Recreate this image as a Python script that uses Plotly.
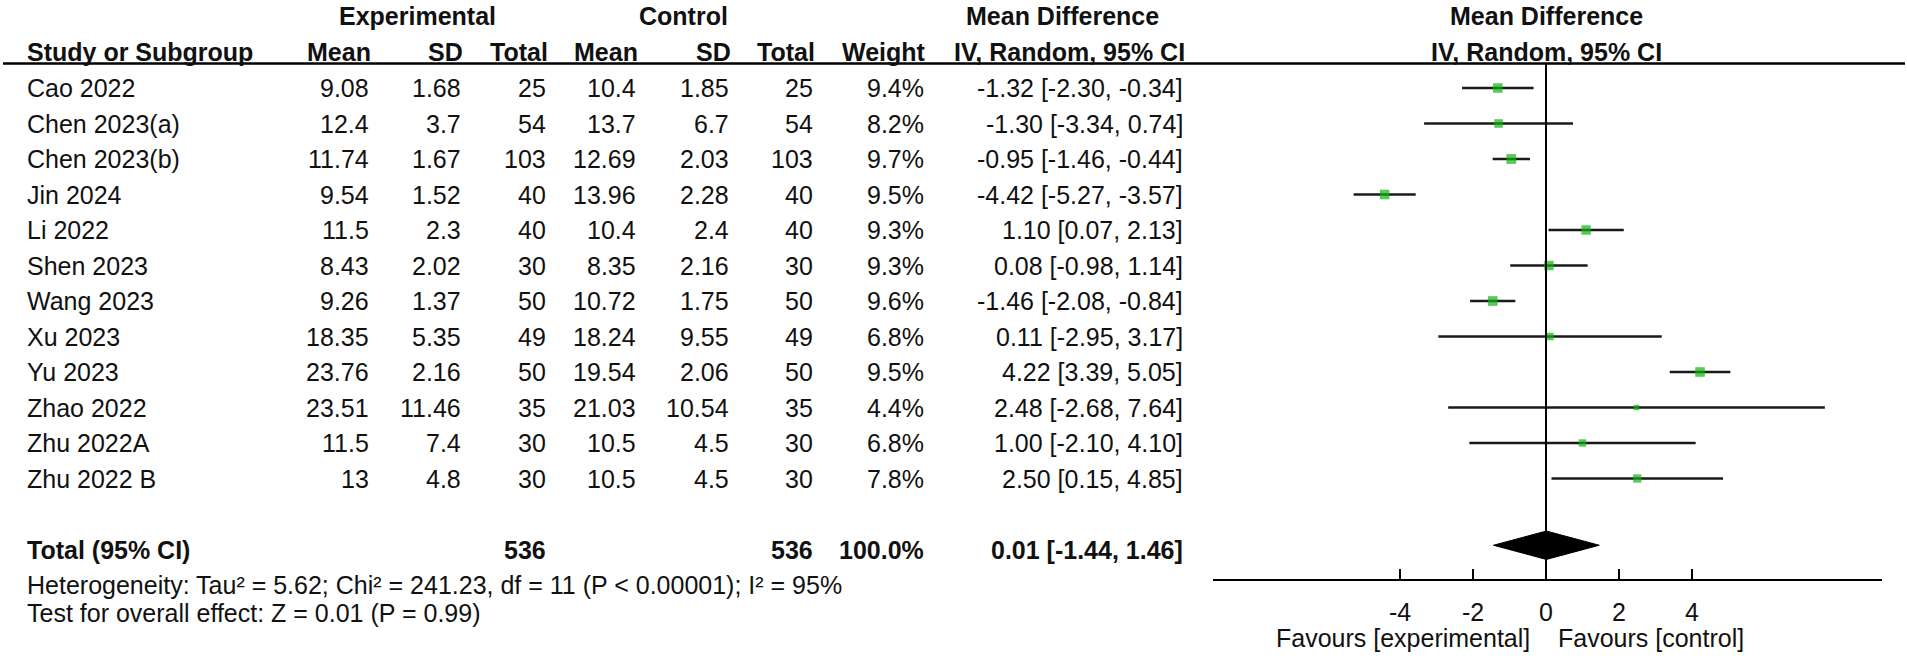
import plotly.graph_objects as go

# === Dados ===
studies = ["Cao 2022", "Chen 2023(a)", "Chen 2023(b)", "Jin 2024", "Li 2022", "Shen 2023",
           "Wang 2023", "Xu 2023", "Yu 2023", "Zhao 2022", "Zhu 2022A", "Zhu 2022 B"]
exp_mean = [9.08, 12.4, 11.74, 9.54, 11.5, 8.43, 9.26, 18.35, 23.76, 23.51, 11.5, 13]
exp_sd = [1.68, 3.7, 1.67, 1.52, 2.3, 2.02, 1.37, 5.35, 2.16, 11.46, 7.4, 4.8]
exp_n = [25, 54, 103, 40, 40, 30, 50, 49, 50, 35, 30, 30]
ctl_mean = [10.4, 13.7, 12.69, 13.96, 10.4, 8.35, 10.72, 18.24, 19.54, 21.03, 10.5, 10.5]
ctl_sd = [1.85, 6.7, 2.03, 2.28, 2.4, 2.16, 1.75, 9.55, 2.06, 10.54, 4.5, 4.5]
ctl_n = [25, 54, 103, 40, 40, 30, 50, 49, 50, 35, 30, 30]
weight = [9.4, 8.2, 9.7, 9.5, 9.3, 9.3, 9.6, 6.8, 9.5, 4.4, 6.8, 7.8]
md = [-1.32, -1.30, -0.95, -4.42, 1.10, 0.08, -1.46, 0.11, 4.22, 2.48, 1.00, 2.50]
ci_lo = [-2.30, -3.34, -1.46, -5.27, 0.07, -0.98, -2.08, -2.95, 3.39, -2.68, -2.10, 0.15]
ci_hi = [-0.34, 0.74, -0.44, -3.57, 2.13, 1.14, -0.84, 3.17, 5.05, 7.64, 4.10, 4.85]

total_exp = 536
total_ctl = 536
total_weight = 100.0
total_md = 0.01
total_lo = -1.44
total_hi = 1.46
heterogeneity = "Heterogeneity: Tau² = 5.62; Chi² = 241.23, df = 11 (P < 0.00001); I² = 95%"
overall = "Test for overall effect: Z = 0.01 (P = 0.99)"

tick_vals = [-4, -2, 0, 2, 4]

# === Geometria (pixels da imagem de 1907 x 658) ===
W, H = 1907, 658
FONT = "Arial, Liberation Sans, sans-serif"
FS = 25
row0_px, row_px = 88, 35.5          # centro da 1a linha e altura de linha
zero_px, unit_px = 1546, 36.5       # posição do 0 e px por unidade
ax_left_px, ax_right_px = 1213, 1882
axis_px = 580

def prow(p):  # pixel vertical -> unidade de linha
    return (p - row0_px) / row_px

rows = list(range(len(studies)))
total_row = len(studies) + 1
col_right = [371, 463, 548, 638, 731, 815, 926, 1185]

fig = go.Figure()

# Linhas dos IC
for i in rows:
    fig.add_trace(go.Scatter(
        x=[ci_lo[i], ci_hi[i]], y=[i, i], mode="lines",
        line=dict(color="#1a1a1a", width=2.5), hoverinfo="skip", showlegend=False))

# Quadrados (tamanho proporcional ao peso)
fig.add_trace(go.Scatter(
    x=md, y=rows, mode="markers",
    marker=dict(symbol="square", color="#10b410", size=[2 + 0.8 * w for w in weight],
                line=dict(width=0)),
    showlegend=False))

# Diamante do efeito global
dh = 0.4
dy = total_row - 0.12
fig.add_trace(go.Scatter(
    x=[total_lo, total_md, total_hi, total_md, total_lo],
    y=[dy, dy - dh, dy, dy + dh, dy],
    mode="lines", fill="toself", fillcolor="black",
    line=dict(color="black", width=1), showlegend=False))

# Linha vertical do zero e linha do cabeçalho
fig.add_shape(type="line", xref="x", yref="y", x0=0, x1=0, y0=prow(63.5), y1=prow(axis_px),
              line=dict(color="black", width=2))
fig.add_shape(type="line", xref="paper", yref="y", x0=3 / W, x1=1905 / W,
              y0=prow(63.5), y1=prow(63.5), line=dict(color="black", width=2.5))

def txt(x, y, s, anchor="right", bold=False, xref="paper", xshift=0):
    fig.add_annotation(x=x, y=y, xref=xref, yref="y", text=f"<b>{s}</b>" if bold else s,
                       showarrow=False, xanchor=anchor, yanchor="middle", xshift=xshift,
                       font=dict(family=FONT, size=FS, color="#111"))

# Cabeçalhos
h1, h2 = prow(16), prow(52)
txt(417 / W, h1, "Experimental", "center", True)
txt(683 / W, h1, "Control", "center", True)
txt(1062 / W, h1, "Mean Difference", "center", True)
txt(25 / W, h2, "Study or Subgroup", "left", True)
for c, lab in zip(col_right, ["Mean", "SD", "Total", "Mean", "SD", "Total", "Weight",
                              "IV, Random, 95% CI"]):
    txt((c + 2) / W, h2, lab, "right", True)
txt(0, h1, "Mean Difference", "center", True, xref="x")
txt(0, h2, "IV, Random, 95% CI", "center", True, xref="x")

# Linhas da tabela
for i in rows:
    cells = [f"{exp_mean[i]:g}", f"{exp_sd[i]:g}", f"{exp_n[i]}",
             f"{ctl_mean[i]:g}", f"{ctl_sd[i]:g}", f"{ctl_n[i]}",
             f"{weight[i]:.1f}%", f"{md[i]:.2f} [{ci_lo[i]:.2f}, {ci_hi[i]:.2f}]"]
    txt(25 / W, i, studies[i], "left")
    for c, s in zip(col_right, cells):
        txt(c / W, i, s)

# Total
txt(25 / W, total_row, "Total (95% CI)", "left", True)
txt(col_right[2] / W, total_row, f"{total_exp}", bold=True)
txt(col_right[5] / W, total_row, f"{total_ctl}", bold=True)
txt(col_right[6] / W, total_row, f"{total_weight:.1f}%", bold=True)
txt(col_right[7] / W, total_row, f"{total_md:.2f} [{total_lo:.2f}, {total_hi:.2f}]", bold=True)
txt(25 / W, prow(585), heterogeneity, "left")
txt(25 / W, prow(613), overall, "left")

# Rótulos "Favours"
txt(0, prow(638), "Favours [experimental]", "right", xref="x", xshift=-14)
txt(0, prow(638), "Favours [control]", "left", xref="x", xshift=10)

# === Layout ===
x_lo = (ax_left_px - zero_px) / unit_px
x_hi = (ax_right_px - zero_px) / unit_px
fig.update_layout(
    width=W, height=H, margin=dict(l=0, r=0, t=0, b=0),
    paper_bgcolor="white", plot_bgcolor="white",
    xaxis=dict(domain=[ax_left_px / W, ax_right_px / W], range=[x_lo, x_hi],
               anchor="free", position=1 - axis_px / H,
               showline=True, linecolor="black", linewidth=2,
               ticks="inside", ticklen=10, tickwidth=2, tickcolor="black",
               tickvals=tick_vals, ticktext=[str(v) for v in tick_vals],
               showgrid=False, zeroline=False, ticklabelstandoff=10,
               tickfont=dict(family=FONT, size=FS, color="#111")),
    yaxis=dict(domain=[0, 1], range=[prow(H), prow(0)], visible=False),
)

fig.write_html("out.html", config={"displayModeBar": False},
               post_script="document.body.style.margin='0';document.body.style.overflow='hidden';")
